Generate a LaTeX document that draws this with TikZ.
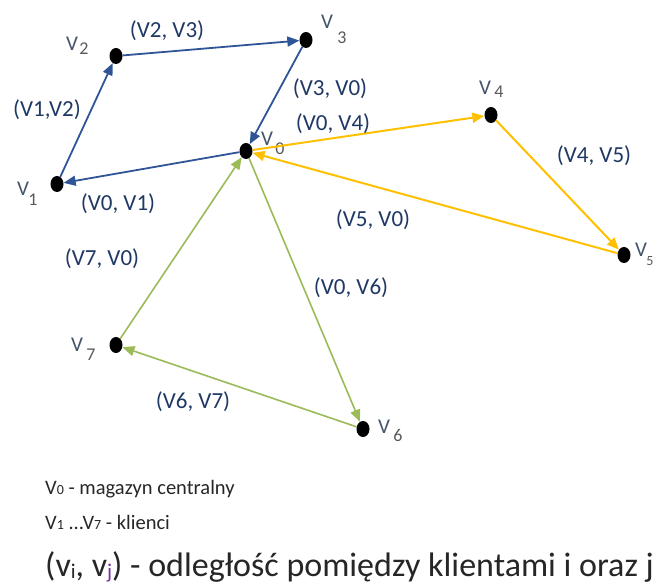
\documentclass[tikz,border=0pt]{standalone}
\usepackage{fontspec}
\setmainfont{Carlito}
\usetikzlibrary{arrows.meta, shapes.geometric}
\definecolor{edgeblue}{HTML}{2F5597}
\definecolor{edgeorange}{HTML}{FFC000}
\definecolor{edgegreen}{HTML}{9BBB59}
\definecolor{labelnavy}{HTML}{1F3864}
\definecolor{vnavy}{HTML}{44546A}
\definecolor{labelgrey}{HTML}{595959}
\definecolor{jpurple}{HTML}{7030A0}
\newcommand{\smalldig}[1]{{\fontsize{14}{14}\selectfont #1}}
\newcommand{\subidx}[1]{\raisebox{-2pt}{\fontsize{21}{21}\selectfont #1}}

\begin{document}
\begin{tikzpicture}[x=1pt, y=-1pt,
  dot/.style={ellipse, fill=black, minimum width=13pt, minimum height=16pt, inner sep=0pt},
  vname/.style={font=\fontsize{21}{21}\selectfont, text=vnavy, inner sep=0pt},
  vdigit/.style={font=\fontsize{18}{18}\selectfont, text=labelgrey, inner sep=0pt},
  elabel/.style={font=\fontsize{23}{23}\selectfont, text=labelnavy, inner sep=0pt},
  tip/.style={-{Triangle[length=12pt, width=10pt]}},
  blueedge/.style={tip, edgeblue, line width=1.8pt},
  orangeedge/.style={tip, edgeorange, line width=2pt},
  greenedge/.style={tip, edgegreen, line width=1.6pt},
  legend/.style={anchor=base west, inner sep=0pt, text=black!85}]
  \useasboundingbox (0,0) rectangle (654,588);
  % vertices
  \node[dot] (v0) at (246,151) {};
  \node[dot] (v1) at (57,184)  {};
  \node[dot] (v2) at (116,56)  {};
  \node[dot] (v3) at (306,40)  {};
  \node[dot] (v4) at (491,115) {};
  \node[dot] (v5) at (624,255) {};
  \node[dot] (v6) at (363,429) {};
  \node[dot] (v7) at (116,345) {};
  % vertex names
  \node[vname] (n0) at (267,139) {V}; \node[vdigit] (d0) at (280,149) {0};
  \node[vname] (n1) at (23,189)  {V}; \node[vdigit] (d1) at (33,200)  {1};
  \node[vname] (n2) at (72,44)   {V}; \node[vdigit] (d2) at (84,49)   {2};
  \node[vname] (n3) at (327,22)  {V}; \node[vdigit] (d3) at (342,38)  {3};
  \node[vname] (n4) at (485,88)  {V}; \node[vdigit] (d4) at (499,92)  {4};
  \node[vname] (n5) at (641,250) {V}; \node[vdigit, font=\fontsize{14}{14}\selectfont] (d5) at (650,261) {5};
  \node[vname] (n6) at (384,427) {V}; \node[vdigit] (d6) at (398,435) {6};
  \node[vname] (n7) at (77,345)  {V}; \node[vdigit] (d7) at (91,355)  {7};
  % route 1
  \draw[blueedge] (v1) -- (v2);
  \draw[blueedge] (v2) -- (v3);
  \draw[blueedge] (v3) -- (v0);
  \draw[blueedge] (v0) -- (v1);
  % route 2
  \draw[orangeedge] (v0) -- (v4);
  \draw[orangeedge] (v4) -- (v5);
  \draw[orangeedge] (v5) -- (v0);
  % route 3
  \draw[greenedge] (v0) -- (v6);
  \draw[greenedge] (v6) -- (v7);
  \draw[greenedge] (v7) -- (v0);
  % edge labels
  \node[elabel] (l23) at (167,31)  {(V2, V3)};
  \node[elabel] (l12) at (47,110)  {(V1,V2)};
  \node[elabel] (l30) at (330,89)  {(V3, V0)};
  \node[elabel] (l04) at (333,124) {(V0, V4)};
  \node[elabel] (l01) at (118,204) {(V0, V1)};
  \node[elabel] (l45) at (594,156) {(V4, V5)};
  \node[elabel] (l50) at (373,220) {(V5, V0)};
  \node[elabel] (l70) at (102,259) {(V7, V0)};
  \node[elabel] (l06) at (351,288) {(V0, V6)};
  \node[elabel] (l67) at (193,402) {(V6, V7)};
  % legend
  \node[legend, font=\fontsize{20.5}{20.5}\selectfont] (leg1) at (45,494)
    {V\smalldig{0} - magazyn centralny};
  \node[legend, font=\fontsize{20.5}{20.5}\selectfont] (leg2) at (45,529)
    {V\smalldig{1} ...V\smalldig{7} - klienci};
  \node[legend, font=\fontsize{34}{34}\selectfont] (leg3) at (45,576)
    {(v\subidx{i}, v\subidx{\textcolor{jpurple}{j}}) - odległość pomiędzy klientami i oraz j};
\end{tikzpicture}
\end{document}
